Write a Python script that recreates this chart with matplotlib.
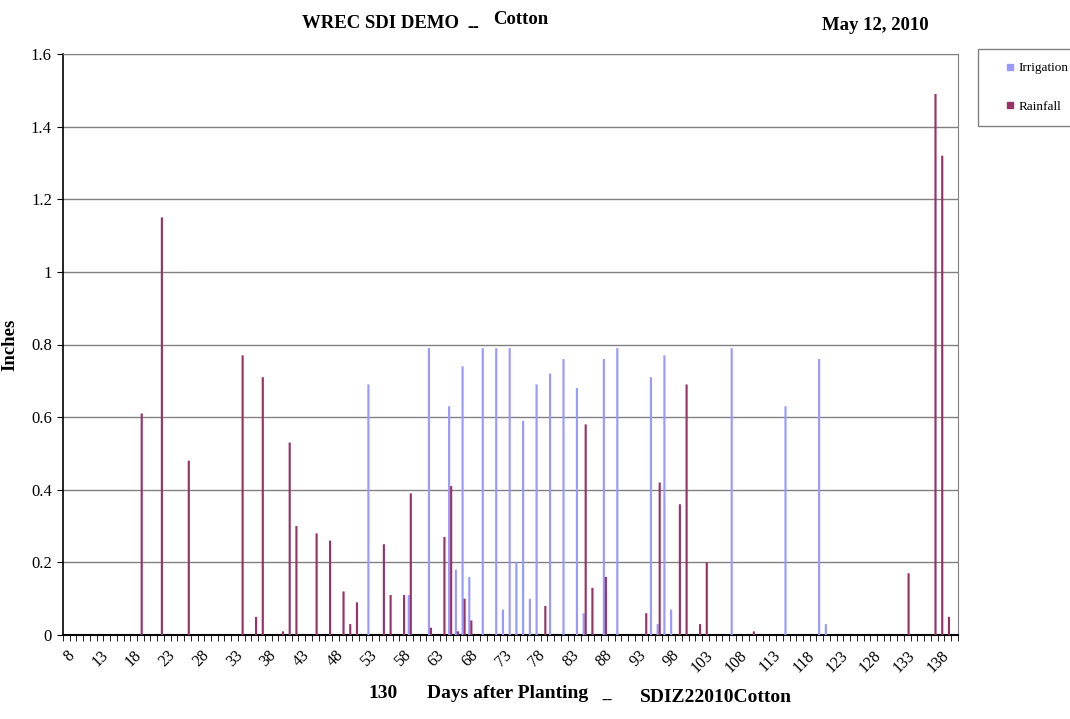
import matplotlib
matplotlib.use("Agg")
import matplotlib.pyplot as plt
from matplotlib.lines import Line2D
import numpy as np

# days after planting shown on the category axis
first_day = 8
last_day = 140

# irrigation events (day, inches)
irr_days = [53, 59, 62, 65, 66, 67, 68, 70, 72, 73, 74, 75, 76, 77, 78, 80, 82,
            84, 85, 88, 90, 95, 96, 97, 98, 107, 115, 120, 121]
irr_vals = [0.69, 0.11, 0.79, 0.63, 0.18, 0.74, 0.16, 0.79, 0.79, 0.07, 0.79, 0.20,
            0.59, 0.10, 0.69, 0.72, 0.76, 0.68, 0.06, 0.76, 0.79, 0.71, 0.03, 0.77,
            0.07, 0.79, 0.63, 0.76, 0.03]

# rainfall events (day, inches)
rain_days = [19, 22, 26, 34, 36, 37, 40, 41, 42, 45, 47, 49, 50, 51, 55, 56, 58, 59,
             62, 64, 65, 66, 67, 68, 79, 85, 86, 88, 94, 96, 99, 100, 102, 103, 110,
             133, 137, 138, 139]
rain_vals = [0.61, 1.15, 0.48, 0.77, 0.05, 0.71, 0.01, 0.53, 0.30, 0.28, 0.26, 0.12,
             0.03, 0.09, 0.25, 0.11, 0.11, 0.39, 0.02, 0.27, 0.41, 0.01, 0.10, 0.04,
             0.08, 0.58, 0.13, 0.16, 0.06, 0.42, 0.36, 0.69, 0.03, 0.20, 0.01,
             0.17, 1.49, 1.32, 0.05]

y_ticks = [0, 0.2, 0.4, 0.6, 0.8, 1, 1.2, 1.4, 1.6]
y_labels = ["0", "0.2", "0.4", "0.6", "0.8", "1", "1.2", "1.4", "1.6"]
x_label_days = list(range(first_day, last_day, 5))

plt.rcParams['font.family'] = ['Liberation Serif', 'DejaVu Serif']

W, H = 1070, 719
fig = plt.figure(figsize=(W / 100, H / 100), dpi=100)
ax = fig.add_axes([63 / W, 1 - 635 / H, (957.7 - 63) / W, (635 - 54) / H])

irr_color = '#9999FF'
rain_color = '#993366'

# thin columns, not snapped so they all come out the same width
ax.bar(np.array(irr_days) - 0.1, irr_vals, width=0.32, color=irr_color,
       linewidth=0, snap=False, zorder=3)
ax.bar(np.array(rain_days) + 0.2, rain_vals, width=0.32, color=rain_color,
       linewidth=0, snap=False, zorder=3)

ax.set_xlim(first_day - 0.5, last_day + 0.5)
ax.set_ylim(0, 1.6)

# gridlines every 0.2
ax.set_yticks(y_ticks)
ax.set_yticklabels(y_labels, fontsize=12)
ax.yaxis.grid(True, color='#808080', linewidth=1)
ax.set_axisbelow(True)
ax.tick_params(axis='y', length=4, direction='out', pad=4)

# category axis: small tick at every day boundary, labels every 5 days
ax.set_xticks(x_label_days)
ax.set_xticklabels([str(d) for d in x_label_days], fontsize=11.5, rotation=45,
                   ha='right', va='top', rotation_mode='anchor')
ax.set_xticks(np.arange(first_day - 0.5, last_day + 1, 1), minor=True)
ax.tick_params(axis='x', which='major', length=0, pad=9)
ax.tick_params(axis='x', which='minor', length=4, direction='out', color='black')

ax.spines['left'].set_color('black')
ax.spines['bottom'].set_color('black')
ax.spines['left'].set_linewidth(1.2)
ax.spines['bottom'].set_linewidth(1.5)
ax.spines['top'].set_color('#808080')
ax.spines['right'].set_color('#808080')

ax.set_ylabel('Inches', fontsize=13.5, fontweight='bold')
ax.yaxis.set_label_coords((18 - 63) / (957.7 - 63), 0.5)

# titles
fig.text(302 / W, 1 - 24 / H, 'WREC SDI DEMO', fontsize=13.5, fontweight='bold',
         ha='left', va='center')
fig.text(473 / W, 1 - 27 / H, '--', fontsize=13, fontweight='bold',
         ha='center', va='center')
fig.text(493 / W, 1 - 19 / H, 'Cotton', fontsize=13.5, fontweight='bold',
         ha='left', va='center')
fig.text(875 / W, 1 - 26 / H, 'May 12, 2010', fontsize=13.5, fontweight='bold',
         ha='center', va='center')

# bottom caption
fig.text(368 / W, 1 - 694 / H, '130', fontsize=14, fontweight='bold',
         ha='left', va='center')
fig.text(427 / W, 1 - 693 / H, 'Days after Planting', fontsize=14,
         fontweight='bold', ha='left', va='center')
fig.text(607 / W, 1 - 701 / H, '--', fontsize=12, fontweight='bold',
         ha='center', va='center')
fig.text(640 / W, 1 - 698 / H, 'SDIZ22010Cotton', fontsize=14,
         fontweight='bold', ha='left', va='center')

# legend box, cut off by the right edge like the original
handles = [Line2D([], [], linestyle='none', marker='s', markersize=5,
                  color=irr_color),
           Line2D([], [], linestyle='none', marker='s', markersize=5,
                  color=rain_color)]
fig.legend(handles, ['Irrigation', 'Rainfall'], loc='upper left',
           bbox_to_anchor=(978 / W, 1 - 49 / H), fontsize=9.5,
           frameon=True, fancybox=False, edgecolor='#808080', framealpha=1,
           handlelength=2.9, handletextpad=-0.8, labelspacing=2.0,
           borderpad=1.0, borderaxespad=0)

fig.savefig('out.png', dpi=100)
